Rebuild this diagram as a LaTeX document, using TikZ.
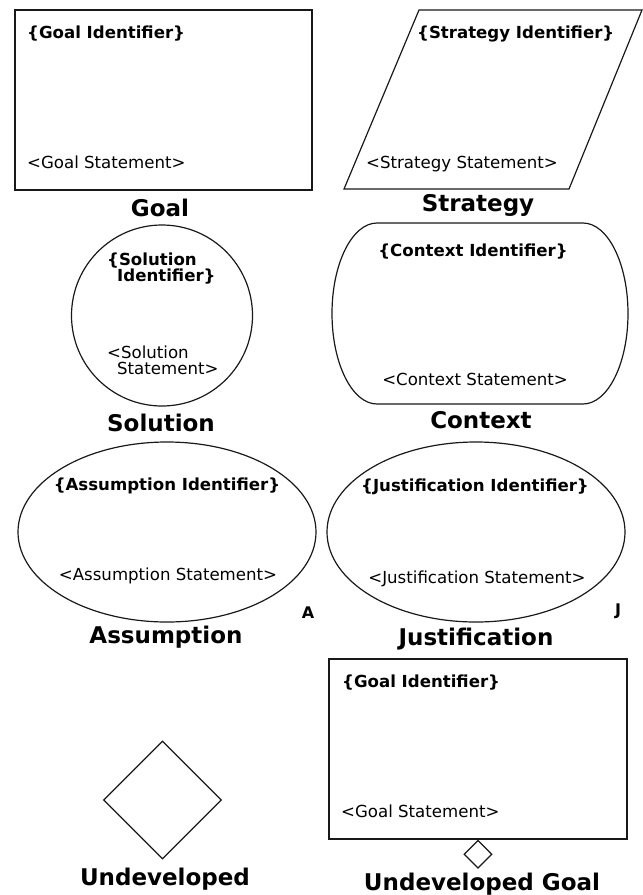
\documentclass[tikz,border=0pt]{standalone}
\usepackage{fontspec}
\setmainfont{DejaVu Sans}
\usetikzlibrary{shapes.geometric}
\tikzset{
  shp/.style={draw=black!90, line width=1.2pt, inner sep=0pt},
  ident/.style={inner sep=0pt, font=\fontsize{16.6}{17}\selectfont\bfseries},
  stmt/.style={inner sep=0pt, font=\fontsize{16.6}{17}\selectfont},
  lbl/.style={inner sep=0pt, font=\fontsize{23}{26}\selectfont\bfseries, anchor=base},
  tag/.style={inner sep=0pt, font=\fontsize{16}{17}\selectfont\bfseries, anchor=base},
}
\begin{document}
\begin{tikzpicture}[x=1pt,y=-1pt]
\useasboundingbox (0,0) rectangle (643,895);
% Goal
\node[shp, rectangle, minimum width=297, minimum height=180] (goal) at (163.5,100) {};
\node[ident, anchor=base west] (goalid) at (27,38) {\{Goal Identifier\}};
\node[stmt, anchor=base west] (goalst) at (27,168) {<Goal Statement>};
\node[lbl] (goallbl) at (160,216) {Goal};
% Strategy
\draw[shp] (344,189) -- (569,189) -- (642,10) -- (419,10) -- cycle;
\node[ident, anchor=base west] (strid) at (417,38) {\{Strategy Identifier\}};
\node[stmt, anchor=base west] (strst) at (366,168) {<Strategy Statement>};
\node[lbl] (strlbl) at (478,211) {Strategy};
% Solution
\node[shp, circle, minimum size=181] (sol) at (162,315.5) {};
\node[ident, anchor=base west] (solid1) at (107,265) {\{Solution};
\node[ident, anchor=base west] (solid2) at (117,281.5) {Identifier\}};
\node[stmt, anchor=base west] (solst1) at (107,358) {<Solution};
\node[stmt, anchor=base west] (solst2) at (117,374.5) {Statement>};
\node[lbl] (sollbl) at (161,431) {Solution};
% Context
\draw[shp] (377,223) -- (583,223) arc[start angle=-90, end angle=90, x radius=45, y radius=90.5]
  -- (377,404) arc[start angle=90, end angle=270, x radius=45, y radius=90.5] -- cycle;
\node[ident, anchor=base] (ctxid) at (473,256) {\{Context Identifier\}};
\node[stmt, anchor=base] (ctxst) at (475,385) {<Context Statement>};
\node[lbl] (ctxlbl) at (481,428) {Context};
% Assumption
\node[shp, ellipse, minimum width=298, minimum height=180] (ass) at (167,532) {};
\node[ident, anchor=base] (assid) at (167,490) {\{Assumption Identifier\}};
\node[stmt, anchor=base] (assst) at (168,580) {<Assumption Statement>};
\node[tag] (assA) at (308,618) {A};
\node[lbl] (asslbl) at (166,643) {Assumption};
% Justification
\node[shp, ellipse, minimum width=298, minimum height=180] (jus) at (476,532) {};
\node[ident, anchor=base] (jusid) at (475,491) {\{Justification Identifier\}};
\node[stmt, anchor=base] (jusst) at (477,583) {<Justification Statement>};
\node[tag] (jusJ) at (618,615) {J};
\node[lbl] (juslbl) at (476,645) {Justification};
% Undeveloped
\node[shp, diamond, minimum width=118, minimum height=118, aspect=1] (und) at (162.5,800) {};
\node[lbl] (undlbl) at (165,885) {Undeveloped};
% Undeveloped goal
\node[shp, rectangle, minimum width=298, minimum height=180] (ugoal) at (478,749) {};
\node[ident, anchor=base west] (ugoalid) at (342,687) {\{Goal Identifier\}};
\node[stmt, anchor=base west] (ugoalst) at (341,817) {<Goal Statement>};
\node[shp, diamond, minimum width=28, minimum height=28, aspect=1, anchor=north] (ud) at (ugoal.south) {};
\node[lbl] (ugoallbl) at (482,890) {Undeveloped Goal};
\end{tikzpicture}
\end{document}
